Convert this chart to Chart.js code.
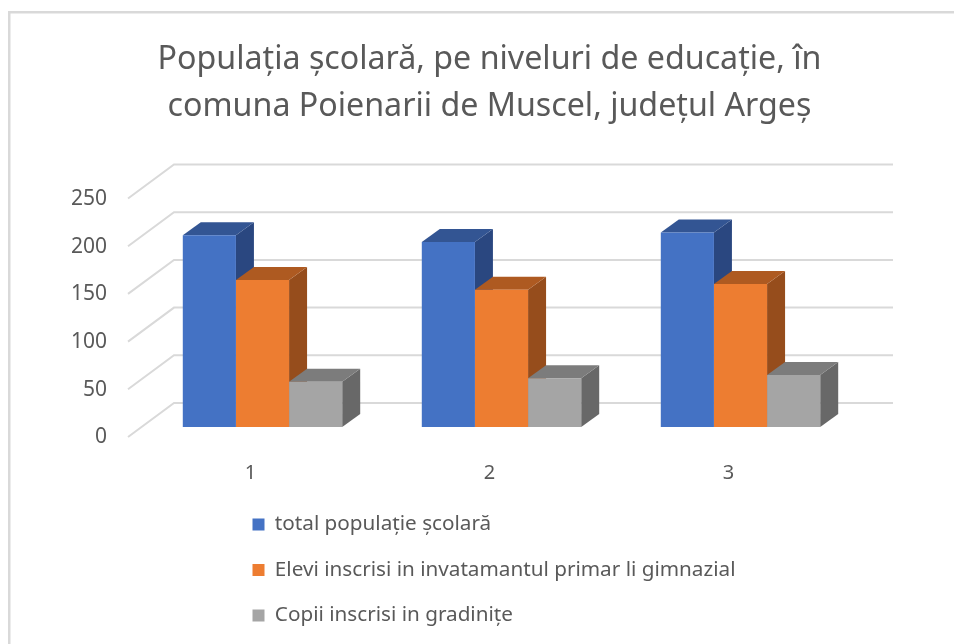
<!DOCTYPE html>
<html><head><meta charset="utf-8">
<style>html,body{margin:0;padding:0;background:#fff}#w{width:954px;height:644px}canvas{filter:blur(0.4px)}</style>
<script src="https://cdn.jsdelivr.net/npm/chart.js@4"></script>
</head><body><div id="w"><canvas id="c"></canvas></div>
<script>
const categories = ['1','2','3'];
const seriesNames = ['total populație școlară','Elevi inscrisi in invatamantul primar li gimnazial','Copii inscrisi in gradinițe'];
const totalValues = [201,194,204];
const primaryValues = [154,144,150];
const kindergartenValues = [47.5,51,54.5];
const titleLines = ['Populația școlară, pe niveluri de educație, în','comuna Poienarii de Muscel, județul Argeș'];
const frontColors = ['#4472c4','#ed7d31','#a5a5a5'];
const topColors = ['#335593','#ae5a21','#7c7c7c'];
const sideColors = ['#2a4780','#964d1c','#686868'];
const FONT = '"Noto Sans"';
const TEXT = '#595959';
const DEPTH_X = 18, DEPTH_Y = 13;

function poly(ctx, pts, color){
  ctx.beginPath();
  pts.forEach((p,i)=> i ? ctx.lineTo(p[0],p[1]) : ctx.moveTo(p[0],p[1]));
  ctx.closePath(); ctx.fillStyle = color; ctx.fill();
}
function shiftLabels(scale, dx, dy){
  scale.getLabelItems().forEach(it=>{
    if(!it._shifted){
      const t = it.options.translation;
      it.options.translation = [t[0]+dx, t[1]+dy];
      it._shifted = true;
    }
  });
}
const view3d = {
  id:'view3d',
  afterLayout(chart){
    const l = chart.legend;
    const pad = l.options.labels.padding;
    const size = l.options.labels.font.size;
    l.left = 252.5 - pad; l.top = 524.5 - size/2 - pad;
    l.right = l.left + l.width; l.bottom = l.top + l.height;
    l.adjustHitBoxes();
    const t = chart.titleBlock;
    t.left = 25; t.right = 954;
  },
  beforeDraw(chart){
    const {ctx} = chart;
    ctx.save();
    ctx.strokeStyle = '#d9d9d9'; ctx.lineWidth = 2.5;
    ctx.beginPath(); ctx.moveTo(9.25,644); ctx.lineTo(9.25,12.25); ctx.lineTo(954,12.25); ctx.stroke();
    ctx.restore();
    shiftLabels(chart.scales.y,0,10.5);
    shiftLabels(chart.scales.x,-12,0);
  },
  beforeDatasetsDraw(chart){
    const {ctx, chartArea:a, scales:{y}} = chart;
    ctx.save();
    ctx.strokeStyle = '#d9d9d9'; ctx.lineWidth = 2;
    y.ticks.forEach(t=>{
      const p = y.getPixelForValue(t.value);
      ctx.beginPath();
      ctx.moveTo(a.left-15,p+10); ctx.lineTo(a.left+31,p-24); ctx.lineTo(a.right+33,p-24);
      ctx.stroke();
    });
    chart.data.datasets.forEach((ds,i)=>{
      chart.getDatasetMeta(i).data.forEach(b=>{
        const {x,y:top,base,width} = b.getProps(['x','y','base','width'],true);
        const l = x-width/2, r = x+width/2;
        poly(ctx,[[r,top],[r+DEPTH_X,top-DEPTH_Y],[r+DEPTH_X,base-DEPTH_Y],[r,base]],sideColors[i]);
        poly(ctx,[[l,top],[l+DEPTH_X,top-DEPTH_Y],[r+DEPTH_X,top-DEPTH_Y],[r,top]],topColors[i]);
      });
    });
    ctx.restore();
  }
};
new Chart(document.getElementById('c'),{
  type:'bar',
  data:{labels:categories,datasets:[
    {label:seriesNames[0],data:totalValues,backgroundColor:frontColors[0]},
    {label:seriesNames[1],data:primaryValues,backgroundColor:frontColors[1]},
    {label:seriesNames[2],data:kindergartenValues,backgroundColor:frontColors[2]}
  ]},
  options:{
    responsive:true,maintainAspectRatio:false,animation:false,
    categoryPercentage:0.667,barPercentage:1,
    layout:{padding:{left:0,right:94,top:0,bottom:0}},
    plugins:{
      title:{display:true,text:titleLines,color:TEXT,font:{family:FONT,size:32.2,weight:'normal',lineHeight:1.46},padding:{top:36,bottom:58.5}},
      legend:{position:'chartArea',align:'start',labels:{boxWidth:12,boxHeight:12,padding:24.8,color:TEXT,font:{family:FONT,size:20.7}}},
      tooltip:{enabled:false}
    },
    scales:{
      x:{grid:{display:false,drawTicks:false},border:{display:false},
         afterFit(s){s.height=217;},
         ticks:{color:TEXT,padding:34,font:{family:FONT,size:20}}},
      y:{min:0,max:250,grid:{display:false,drawTicks:false},border:{display:false},
         afterFit(s){s.width=143;},
         ticks:{stepSize:50,color:TEXT,padding:36,font:{family:FONT,size:21}}}
    }
  },
  plugins:[view3d]
});
</script></body></html>
